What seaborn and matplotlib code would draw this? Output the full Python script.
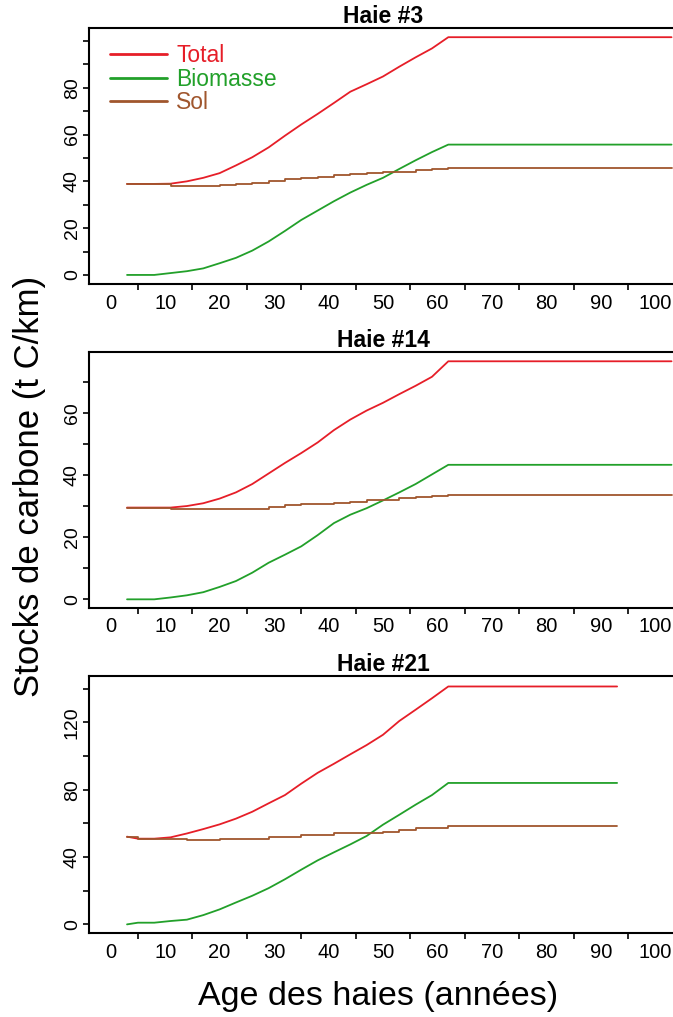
import numpy as np
import pandas as pd
import seaborn as sns
import matplotlib
matplotlib.use("Agg")
import matplotlib.pyplot as plt
from matplotlib import font_manager
from matplotlib.ticker import FixedLocator, NullFormatter

# ---------------- data ----------------
ages = [3, 5, 8, 11, 14, 17, 20, 23, 26, 29, 32, 35, 38, 41, 44, 47, 50, 53, 56, 59, 62]

titles = ["Haie #3", "Haie #14", "Haie #21"]
end_age = [103, 103, 93]

total_3 = [38.9, 38.9, 38.9, 39.0, 40.0, 41.5, 43.5, 46.8, 50.3, 54.5, 59.5, 64.3,
           68.8, 73.5, 78.3, 81.5, 84.8, 89.0, 93.0, 96.8, 101.6]
biomasse_3 = [0.0, 0.0, 0.0, 0.8, 1.6, 2.8, 5.0, 7.3, 10.4, 14.3, 18.8, 23.5,
              27.5, 31.5, 35.2, 38.5, 41.5, 45.3, 49.0, 52.5, 55.7]
sol_3 = [38.9, 38.9, 38.9, 38.2, 38.2, 38.2, 38.3, 38.9, 39.2, 40.0, 40.8, 41.4,
         42.0, 42.5, 43.0, 43.5, 43.8, 44.2, 44.8, 45.2, 45.9]

total_14 = [29.6, 29.6, 29.6, 29.6, 30.1, 31.0, 32.5, 34.5, 37.2, 40.6, 44.0, 47.2,
            50.6, 54.6, 58.0, 60.9, 63.4, 66.2, 68.9, 71.8, 76.8]
biomasse_14 = [0.0, 0.0, 0.0, 0.6, 1.3, 2.3, 4.0, 5.9, 8.6, 11.8, 14.4, 17.1,
               20.7, 24.6, 27.3, 29.4, 31.9, 34.5, 37.2, 40.3, 43.4]
sol_14 = [29.6, 29.6, 29.6, 29.1, 29.1, 29.1, 29.1, 29.1, 29.1, 29.8, 30.3, 30.7,
          30.9, 31.2, 31.5, 31.9, 32.1, 32.6, 33.0, 33.3, 33.6]

total_21 = [52.1, 50.9, 50.9, 51.7, 54.0, 56.6, 59.4, 62.8, 66.9, 71.9, 76.8, 83.6,
            90.0, 95.4, 101.0, 106.5, 112.6, 120.8, 127.5, 134.3, 141.3]
biomasse_21 = [0.0, 1.0, 1.0, 2.0, 2.8, 5.5, 8.9, 13.0, 17.0, 21.5, 26.8, 32.5,
               38.0, 42.8, 47.5, 52.5, 59.2, 65.1, 71.1, 76.8, 84.0]
sol_21 = [52.1, 50.9, 50.9, 50.9, 49.9, 49.9, 50.9, 50.9, 50.9, 51.9, 51.9, 52.9,
          52.9, 54.1, 54.1, 54.1, 55.0, 56.0, 57.2, 57.2, 58.2]

series_names = ["Total", "Biomasse", "Sol"]
panels = [(total_3, biomasse_3, sol_3), (total_14, biomasse_14, sol_14),
          (total_21, biomasse_21, sol_21)]

y_ticks = [list(range(0, 101, 10)), list(range(0, 71, 10)), list(range(0, 141, 20))]
y_labels = [[0, 20, 40, 60, 80], [0, 20, 40, 60], [0, 40, 80, 120]]
x_labels = list(range(0, 101, 10))
x_minor = list(range(5, 96, 10))

# ---------------- style ----------------
sns.set_style("ticks")
avail = {f.name for f in font_manager.fontManager.ttflist}
base_font = "Liberation Sans" if "Liberation Sans" in avail else "DejaVu Sans"
narrow_font = "Liberation Sans Narrow" if "Liberation Sans Narrow" in avail else base_font
plt.rcParams["font.family"] = [base_font, "DejaVu Sans"]
plt.rcParams["text.color"] = "black"
plt.rcParams["axes.labelcolor"] = "black"
plt.rcParams["xtick.color"] = "black"
plt.rcParams["ytick.color"] = "black"

colors = {"Total": "#E61E28", "Biomasse": "#22A02A", "Sol": "#A0562D"}

W, H = 673, 1017
fig = plt.figure(figsize=(W / 100, H / 100), dpi=100)

left_px, right_px = 89.3, 677.0
frames = [(28.3, 284.3), (352.3, 607.7), (675.7, 933.3)]
ylims = [(-4.0, 105.4), (-2.7, 79.7), (-5.3, 147.7)]
xlim = (-3.93, 104.0)

for i, (top, bot) in enumerate(frames):
    ax = fig.add_axes([left_px / W, (H - bot) / H, (right_px - left_px) / W, (bot - top) / H])
    tot, bio, sol = panels[i]
    x_full = ages + [end_age[i]]
    df = pd.DataFrame({
        "age": x_full,
        "Total": tot + [tot[-1]],
        "Biomasse": bio + [bio[-1]],
        "Sol": sol + [sol[-1]],
    })
    sns.lineplot(data=df, x="age", y="Total", ax=ax, color=colors["Total"],
                 lw=1.3, label="Total", sort=False)
    sns.lineplot(data=df, x="age", y="Biomasse", ax=ax, color=colors["Biomasse"],
                 lw=1.3, label="Biomasse", sort=False)
    sns.lineplot(data=df, x="age", y="Sol", ax=ax, color=colors["Sol"],
                 lw=1.3, label="Sol", sort=False, drawstyle="steps-post")

    ax.set_xlim(*xlim)
    ax.set_ylim(*ylims[i])
    ax.set_xlabel("")
    ax.set_ylabel("")

    # x axis: labels at tens (no tick mark), ticks at 5, 15, ...
    ax.set_xticks(x_labels)
    ax.set_xticklabels([str(v) for v in x_labels], fontsize=14.5)
    ax.tick_params(axis="x", which="major", length=0, pad=7)
    ax.xaxis.set_minor_locator(FixedLocator(x_minor))
    ax.xaxis.set_minor_formatter(NullFormatter())
    ax.tick_params(axis="x", which="minor", length=4.5, width=1.2, color="black")

    # y axis
    ax.set_yticks(y_ticks[i])
    ax.set_yticklabels([str(v) if v in y_labels[i] else "" for v in y_ticks[i]],
                       fontsize=14, rotation=90, va="center")
    ax.tick_params(axis="y", which="major", length=4, width=1.2, pad=2, color="black")

    for s in ax.spines.values():
        s.set_linewidth(1.5)
        s.set_color("black")

    ax.set_title(titles[i], fontsize=16.5, fontweight="bold",
                 family=[narrow_font, "DejaVu Sans"], pad=0.0)

    if i == 0:
        ax.legend(loc="upper left", bbox_to_anchor=(0.0352, 0.938), frameon=False,
                  fontsize=16.5, labelcolor="linecolor", handlelength=2.5,
                  handletextpad=0.4, labelspacing=0.02, borderpad=0,
                  borderaxespad=0)
        for line in ax.get_legend().get_lines():
            line.set_linewidth(2.0)
    else:
        leg = ax.get_legend()
        if leg is not None:
            leg.remove()

fig.text(30 / W, 1 - 486 / H, "Stocks de carbone (t C/km)", rotation=90,
         ha="center", va="center", fontsize=25)
fig.text(378 / W, 1 - 997 / H, "Age des haies (années)", ha="center", va="center",
         fontsize=24.5)

fig.savefig("out.png", dpi=100)
